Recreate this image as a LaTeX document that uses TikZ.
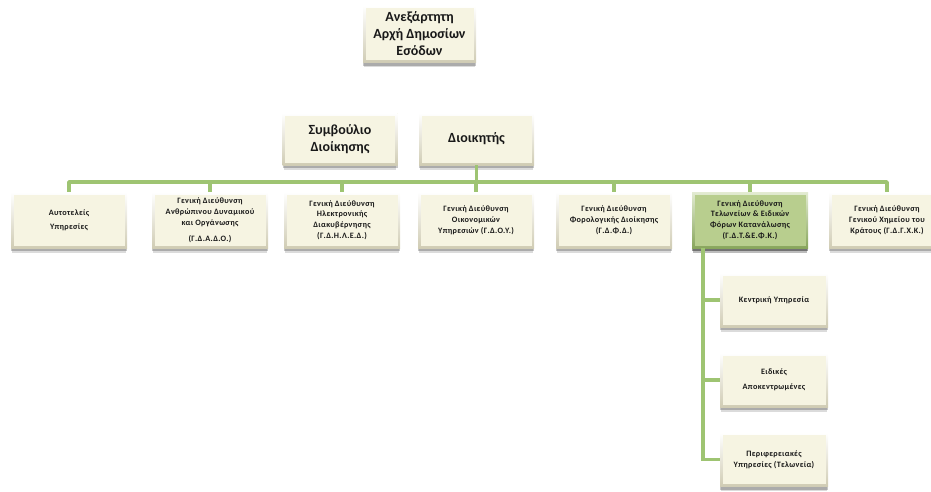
\documentclass[tikz,border=0pt]{standalone}
\usepackage{fontspec}
\setmainfont{Carlito}
\newfontfamily\smallf{Carlito}[LetterSpace=4]
\usetikzlibrary{shadows,calc}
\definecolor{cream}{RGB}{246,244,226}
\definecolor{creamedge}{RGB}{208,204,180}
\definecolor{gfill}{RGB}{184,206,142}
\definecolor{gedge}{RGB}{136,166,92}
\definecolor{conn}{RGB}{158,196,114}
\tikzset{
  basebox/.style={rectangle, draw=none, inner sep=1pt, align=center, text=black!90, fill=cream,
    drop shadow={shadow xshift=0pt, shadow yshift=-3pt, opacity=0.22, fill=black},
    drop shadow={shadow xshift=0pt, shadow yshift=-5.5pt, opacity=0.14, fill=black, shadow scale=0.98},
    path picture={
      \shade[top color=white, bottom color=creamedge] (path picture bounding box.south west) rectangle (path picture bounding box.north east);
      \fill[cream] ([shift={(2.5pt,2.5pt)}]path picture bounding box.south west) rectangle ([shift={(-2.5pt,-2.5pt)}]path picture bounding box.north east);
    }},
  greenbox/.style={basebox, fill=gfill,
    path picture={
      \shade[top color=gfill!40!white, bottom color=gedge] (path picture bounding box.south west) rectangle (path picture bounding box.north east);
      \fill[gfill] ([shift={(2.5pt,2.5pt)}]path picture bounding box.south west) rectangle ([shift={(-2.5pt,-2.5pt)}]path picture bounding box.north east);
    }},
  bigtext/.style={font=\bfseries\fontsize{14}{17}\selectfont},
  smalltext/.style={font=\smallf\bfseries\fontsize{8.2}{10.8}\selectfont},
  topbox/.style={basebox, bigtext, minimum width=113pt, minimum height=57pt},
  midbox/.style={basebox, bigtext, minimum width=115pt, minimum height=52pt},
  rowbox/.style={basebox, smalltext, minimum width=116pt, minimum height=56pt},
  subbox/.style={basebox, smalltext, minimum width=108pt, minimum height=54pt},
  link/.style={draw=conn, line width=3.5pt}
}
\begin{document}
\begin{tikzpicture}[x=1pt,y=-1pt]
\useasboundingbox (0,0) rectangle (931,491);
\node[topbox] (top) at (419.5,34) {Ανεξάρτητη\\Αρχή Δημοσίων\\Εσόδων};
\node[midbox] (symv) at (340,139) {Συμβούλιο\\Διοίκησης};
\node[midbox] (dioik) at (476.5,139) {Διοικητής};

\node[rowbox] (b1) at (69,220) {Αυτοτελείς\\[3pt]Υπηρεσίες};
\node[rowbox] (b2) at (210,220) {Γενική Διεύθυνση\\Ανθρώπινου Δυναμικού\\και Οργάνωσης\\[5pt](Γ.Δ.Α.Δ.Ο.)};
\node[rowbox] (b3) at (342,220) {Γενική Διεύθυνση\\Ηλεκτρονικής\\Διακυβέρνησης\\(Γ.Δ.Η.Λ.Ε.Δ.)};
\node[rowbox] (b4) at (476,220) {Γενική Διεύθυνση\\Οικονομικών\\Υπηρεσιών (Γ.Δ.Ο.Υ.)};
\node[rowbox] (b5) at (614,220) {Γενική Διεύθυνση\\Φορολογικής Διοίκησης\\(Γ.Δ.Φ.Δ.)};
\node[rowbox, greenbox] (b6) at (750,220) {Γενική Διεύθυνση\\Τελωνείων \& Ειδικών\\Φόρων Κατανάλωσης\\(Γ.Δ.Τ.\&Ε.Φ.Κ.)};
\node[rowbox] (b7) at (887,220) {Γενική Διεύθυνση\\Γενικού Χημείου του\\Κράτους (Γ.Δ.Γ.Χ.Κ.)};

\node[subbox] (s1) at (774,300) {Κεντρική Υπηρεσία};
\node[subbox] (s2) at (774,380) {Ειδικές\\[4pt]Αποκεντρωμένες};
\node[subbox] (s3) at (774,459.5) {Περιφερειακές\\Υπηρεσίες (Τελωνεία)};

\coordinate (bus) at (0,182);
\coordinate (trunk) at ($(b6.south west)+(11pt,0pt)$);

\draw[link, line join=round] (b1.north) -- (b1.north |- bus) -- (b7.north |- bus) -- (b7.north);
\foreach \b in {b2,b3,b4,b5,b6} \draw[link] (\b.north) -- (\b.north |- bus);
\draw[link] (dioik.south) -- (dioik.south |- bus);
\draw[link] (trunk) |- (s1.west);
\draw[link] (trunk) |- (s2.west);
\draw[link] (trunk) |- (s3.west);
\end{tikzpicture}
\end{document}
